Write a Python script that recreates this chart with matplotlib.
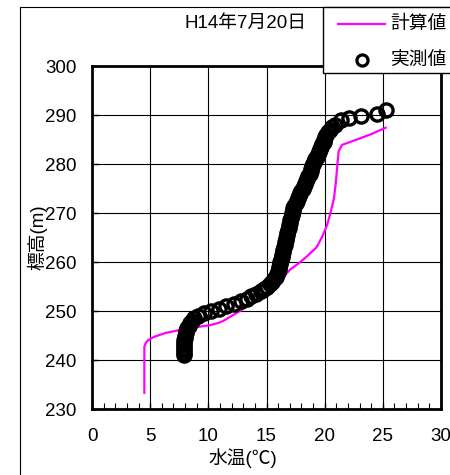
import matplotlib
matplotlib.use('Agg')
import matplotlib.pyplot as plt
from matplotlib.patches import Rectangle
from matplotlib.lines import Line2D
from matplotlib.ticker import MultipleLocator

plt.rcParams['font.family'] = ['Liberation Sans', 'Noto Sans CJK JP', 'DejaVu Sans']

# 計算値 (水温, 標高)
calc_temp = [4.5, 4.5, 4.6, 4.8, 5.3, 6.3, 7.5, 8.7, 10.1, 10.8, 11.3, 12.0,
             12.8, 13.6, 14.4, 15.3, 16.2, 17.0, 17.8, 18.5, 19.3, 19.8,
             20.2, 20.5, 20.8, 20.95, 21.1, 21.2, 21.5, 22.3, 23.0, 24.0, 25.25]
calc_elev = [233.3, 242.7, 243.4, 244.0, 244.7, 245.5, 246.1, 246.6, 247.1,
             247.5, 248.0, 249.0, 250.1, 251.4, 252.8, 254.4, 256.2, 258.4,
             259.8, 261.2, 263.0, 265.2, 267.5, 270.0, 273.0, 276.0, 280.0,
             282.6, 283.9, 284.6, 285.2, 286.1, 287.4]

# 実測値 (水温, 標高)
obs_elev = [241.0, 241.5, 242.0, 242.5, 243.0, 243.5, 244.0, 244.5, 245.0, 245.5,
            246.0, 246.5, 247.0, 247.5, 248.0, 248.5, 249.0, 249.5, 250.0, 250.5,
            251.0, 251.5, 252.0, 252.5, 253.0, 253.5, 254.0, 254.5, 255.0, 255.5,
            256.0, 256.5, 257.0, 257.5, 258.0, 258.5, 259.0, 259.5, 260.0, 260.5,
            261.0, 261.5, 262.0, 262.5, 263.0, 263.5, 264.0, 264.5, 265.0, 265.5,
            266.0, 266.5, 267.0, 267.5, 268.0, 268.5, 269.0, 269.5, 270.0, 270.5,
            271.0, 271.5, 272.0, 272.5, 273.0, 273.5, 274.0, 274.5, 275.0, 275.5,
            276.0, 276.5, 277.0, 277.5, 278.0, 278.5, 279.0, 279.5, 280.0, 280.5,
            281.0, 281.5, 282.0, 282.5, 283.0, 283.5, 284.0, 284.5, 285.0, 285.5,
            286.0, 286.5, 287.0, 287.5, 288.0,
            288.9, 289.3, 289.8, 290.3, 291.1]
obs_temp = [7.9, 7.9, 7.9, 7.9, 7.9, 7.95, 7.95, 8.0, 8.0, 8.05,
            8.1, 8.2, 8.3, 8.45, 8.6, 8.8, 9.1, 9.6, 10.2, 10.9,
            11.5, 12.2, 12.8, 13.3, 13.7, 14.1, 14.5, 14.8, 15.05, 15.3,
            15.5, 15.65, 15.8, 15.9, 16.0, 16.05, 16.1, 16.15, 16.2, 16.25,
            16.3, 16.35, 16.4, 16.45, 16.5, 16.55, 16.6, 16.65, 16.7, 16.75,
            16.8, 16.85, 16.9, 16.95, 17.0, 17.05, 17.1, 17.15, 17.2, 17.25,
            17.3, 17.4, 17.5, 17.6, 17.7, 17.8, 17.9, 18.0, 18.1, 18.2,
            18.3, 18.4, 18.5, 18.6, 18.7, 18.8, 18.85, 18.95, 19.0, 19.1,
            19.2, 19.3, 19.4, 19.5, 19.6, 19.7, 19.8, 19.9, 19.95, 20.05,
            20.15, 20.3, 20.45, 20.65, 20.9,
            21.4, 22.1, 23.1, 24.5, 25.3]

W, H = 450, 475
fig = plt.figure(figsize=(W / 100, H / 100), dpi=100)
fig.patch.set_facecolor('white')

def fx(px):
    return px / W

def fy(py):
    return 1 - py / H

# 外枠
fig.add_artist(Rectangle((fx(20), fy(500)), fx(460), fy(7) - fy(500),
                         transform=fig.transFigure, facecolor='none',
                         edgecolor='black', lw=0.8))

ax = fig.add_axes([fx(92), fy(409), fx(441) - fx(92), fy(66) - fy(409)])

ax.plot(calc_temp, calc_elev, color='#ff00ff', lw=1.6, zorder=3)
ax.plot(obs_temp, obs_elev, 'o', mfc='none', mec='black', ms=9.5,
        mew=2.4, zorder=4)

ax.set_xlim(0, 30)
ax.set_ylim(230, 300)
ax.xaxis.set_major_locator(MultipleLocator(5))
ax.xaxis.set_minor_locator(MultipleLocator(1))
ax.yaxis.set_major_locator(MultipleLocator(10))
ax.grid(True, which='major', color='black', lw=0.8)
ax.set_axisbelow(True)
for sp in ax.spines.values():
    sp.set_linewidth(2.0)
ax.tick_params(axis='both', which='major', direction='in', length=4, width=1,
               labelsize=13.5, pad=11)
ax.tick_params(axis='x', which='minor', direction='in', length=4, width=0.8)
ax.tick_params(axis='x', which='major', pad=14)

fig.text(fx(243), fy(458), '水温(℃)', fontsize=13.5, ha='center', va='center')
fig.text(fx(37), fy(237), '標高(m)', fontsize=13.5, ha='center', va='center',
         rotation=90)
fig.text(fx(246), fy(23), 'H14年7月20日', fontsize=13.5, ha='center', va='center')

# 凡例
fig.add_artist(Rectangle((fx(322.5), fy(73)), fx(200), fy(7) - fy(73),
                         transform=fig.transFigure, facecolor='white',
                         edgecolor='black', lw=1.0, zorder=10))
fig.add_artist(Line2D([fx(338), fx(385)], [fy(24), fy(24)],
                      transform=fig.transFigure, color='#ff00ff', lw=1.6,
                      zorder=11))
fig.add_artist(Line2D([fx(362)], [fy(60)], transform=fig.transFigure,
                      marker='o', mfc='none', mec='black', ms=8, mew=2.3,
                      zorder=11))
fig.text(fx(390), fy(24), '計算値', fontsize=13.5, ha='left', va='center',
         zorder=12)
fig.text(fx(390), fy(60), '実測値', fontsize=13.5, ha='left', va='center',
         zorder=12)

fig.savefig('out.png', dpi=100)
